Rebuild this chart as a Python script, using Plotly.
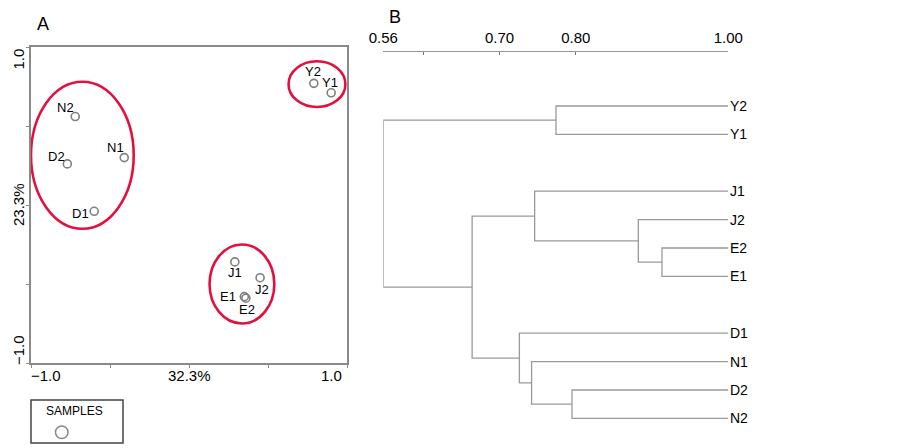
import plotly.graph_objects as go

# ---------------- Panel A data (PCA scores) ----------------
samples = ['Y2', 'Y1', 'N2', 'N1', 'D2', 'D1', 'J1', 'J2', 'E1', 'E2']
pc1 = [0.79, 0.90, -0.72, -0.41, -0.77, -0.60, 0.29, 0.45, 0.35, 0.36]
pc2 = [0.77, 0.71, 0.56, 0.30, 0.26, -0.04, -0.36, -0.46, -0.58, -0.59]
pc1_label = '32.3%'
pc2_label = '23.3%'
axis_ticks_a = [-1.0, -0.5, 0.0, 0.5, 1.0]

# group ellipses (bounding boxes in score units)
group_x0 = [-1.00, 0.63, 0.13]
group_x1 = [-0.35, 0.99, 0.54]
group_y0 = [-0.15, 0.62, -0.75]
group_y1 = [0.78, 0.91, -0.25]

# ---------------- Panel B data (UPGMA dendrogram) ----------------
leaf_names = ['Y2', 'Y1', 'J1', 'J2', 'E2', 'E1', 'D1', 'N1', 'D2', 'N2']
leaf_rows = [0, 1, 3, 4, 5, 6, 8, 9, 10, 11]
node_names = ['nY', 'nE', 'nJ2E', 'nJE', 'nDN2', 'nN1', 'nD', 'nJED', 'root']
node_left = ['Y2', 'E2', 'J2', 'J1', 'D2', 'N1', 'D1', 'nJE', 'nY']
node_right = ['Y1', 'E1', 'nE', 'nJ2E', 'N2', 'nDN2', 'nN1', 'nD', 'nJED']
node_sim = [0.774, 0.913, 0.882, 0.746, 0.795, 0.742, 0.726, 0.664, 0.5475]
sim_ticks = [0.5475, 0.60, 0.70, 0.80, 1.00]
sim_ticktext = ['0.56', '', '0.70', '0.80', '1.00']

# label offsets (pixels) for point labels in panel A
label_shift = {'Y2': (-1, 12), 'Y1': (-1, 10), 'N2': (-10, 9), 'N1': (-9, 10),
               'D2': (-11, 7), 'D1': (-14, -2), 'J1': (0, -11), 'J2': (2, -12),
               'E1': (-16, 0), 'E2': (1, -11)}

W, H = 903, 448
FONT = 'Arial, Liberation Sans, sans-serif'
RED = '#e3103f'
GRAY = '#8a8a8a'


def px(x):
    return x / W


def py(y):
    return 1 - y / H


fig = go.Figure()

# ---- Panel A scatter
fig.add_trace(go.Scatter(
    x=pc1, y=pc2, mode='markers', xaxis='x', yaxis='y',
    marker=dict(symbol='circle-open', size=8, color='#7f7f7f', line=dict(width=1.6)),
    showlegend=False, hoverinfo='text', text=samples))

shapes = []
for x0, x1, y0, y1 in zip(group_x0, group_x1, group_y0, group_y1):
    shapes.append(dict(type='circle', xref='x', yref='y', x0=x0, x1=x1, y0=y0, y1=y1,
                       line=dict(color=RED, width=2.6)))

annotations = []
for s, x, y in zip(samples, pc1, pc2):
    dx, dy = label_shift[s]
    annotations.append(dict(x=x, y=y, xref='x', yref='y', text=s, showarrow=False,
                            xanchor='center', yanchor='middle',
                            xshift=dx, yshift=dy, font=dict(family=FONT, size=13, color='#000')))

# Panel A axis labels
lab_font = dict(family=FONT, size=15, color='#000')
annotations += [
    dict(x=-1, y=py(375), xref='x', yref='paper', text='\u22121.0', showarrow=False,
         xanchor='left', yanchor='middle', xshift=-2, font=lab_font),
    dict(x=0, y=py(375), xref='x', yref='paper', text=pc1_label, showarrow=False,
         xanchor='center', yanchor='middle', font=lab_font),
    dict(x=1, y=py(375), xref='x', yref='paper', text='1.0', showarrow=False,
         xanchor='right', yanchor='middle', xshift=-3, font=lab_font),
    dict(x=px(18), y=1, xref='paper', yref='y', text='1.0', showarrow=False,
         textangle=-90, yanchor='top', xanchor='center', font=lab_font),
    dict(x=px(18), y=0, xref='paper', yref='y', text=pc2_label, showarrow=False,
         textangle=-90, yanchor='middle', xanchor='center', font=lab_font),
    dict(x=px(18), y=-1, xref='paper', yref='y', text='\u22121.0', showarrow=False,
         textangle=-90, yanchor='bottom', xanchor='center', yshift=-4, font=lab_font),
]

# panel letters
annotations += [
    dict(x=px(43), y=py(24), xref='paper', yref='paper', text='A', showarrow=False,
         xanchor='center', yanchor='middle', font=dict(family=FONT, size=18, color='#000')),
    dict(x=px(395), y=py(17), xref='paper', yref='paper', text='B', showarrow=False,
         xanchor='center', yanchor='middle', font=dict(family=FONT, size=18, color='#000')),
]

# legend box
shapes.append(dict(type='rect', xref='paper', yref='paper', x0=px(31), x1=px(123),
                   y0=py(443), y1=py(400), line=dict(color='#444', width=1.5)))
annotations.append(dict(x=px(74), y=py(411), xref='paper', yref='paper', text='SAMPLES',
                        showarrow=False, xanchor='center', yanchor='middle',
                        font=dict(family=FONT, size=12, color='#000')))
shapes.append(dict(type='circle', xref='paper', yref='paper', x0=px(55.5), x1=px(68),
                   y0=py(438.5), y1=py(426), line=dict(color='#888', width=1.5)))

# ---- Panel B dendrogram
pos = {n: (1.0, r) for n, r in zip(leaf_names, leaf_rows)}
seg_x, seg_y = [], []
for name, a, b, s in zip(node_names, node_left, node_right, node_sim):
    xa, ya = pos[a]
    xb, yb = pos[b]
    seg_x += [xa, s, s, xb, None]
    seg_y += [ya, ya, yb, yb, None]
    pos[name] = (s, (ya + yb) / 2)

fig.add_trace(go.Scatter(
    x=seg_x, y=seg_y, mode='lines', xaxis='x2', yaxis='y2',
    line=dict(color='#9a9a9a', width=1.3), showlegend=False, hoverinfo='skip'))

for n, r in zip(leaf_names, leaf_rows):
    annotations.append(dict(x=1.0, y=r, xref='x2', yref='y2', text=n, showarrow=False,
                            xanchor='left', yanchor='middle', xshift=0,
                            font=dict(family=FONT, size=14, color='#000')))

# y2 mapping: pixel = 106 + row*28.4 ; domain pixel 52..440
r_top = (52 - 106) / 28.4
r_bot = (440 - 106) / 28.4

fig.update_layout(
    template='none',
    width=W, height=H, margin=dict(l=0, r=0, t=0, b=0, pad=0, autoexpand=False),
    paper_bgcolor='white', plot_bgcolor='white',
    shapes=shapes, annotations=annotations,
    xaxis=dict(domain=[px(31), px(347)], range=[-1, 1], showgrid=False, zeroline=False,
               showline=True, mirror=True, linecolor=GRAY, linewidth=1.5, automargin=False,
               tickvals=axis_ticks_a, showticklabels=False, ticks='outside', ticklen=3,
               tickcolor=GRAY, anchor='y'),
    yaxis=dict(domain=[py(363), py(47)], range=[-1, 1], showgrid=False, zeroline=False,
               showline=True, mirror=True, linecolor=GRAY, linewidth=1.5, automargin=False,
               tickvals=axis_ticks_a, showticklabels=False, ticks='outside', ticklen=3,
               tickcolor=GRAY, anchor='x'),
    xaxis2=dict(domain=[px(383.3), px(728.3)], range=[0.5475, 1.0], side='top', anchor='y2',
                showgrid=False, zeroline=False, showline=True, linecolor='#9a9a9a', linewidth=1.3,
                automargin=False, ticklabelstandoff=2,
                tickvals=sim_ticks, ticktext=sim_ticktext, ticks='inside', ticklen=3,
                tickcolor='#777', tickfont=dict(family=FONT, size=15, color='#000')),
    yaxis2=dict(domain=[py(440), py(52)], range=[r_bot, r_top], anchor='x2', automargin=False,
                showgrid=False, zeroline=False, showline=False, showticklabels=False, ticks=''),
)

fig.write_html('out.html', config={'responsive': False, 'displayModeBar': False},
               post_script="document.body.style.margin='0px';document.body.style.overflow='hidden';")
